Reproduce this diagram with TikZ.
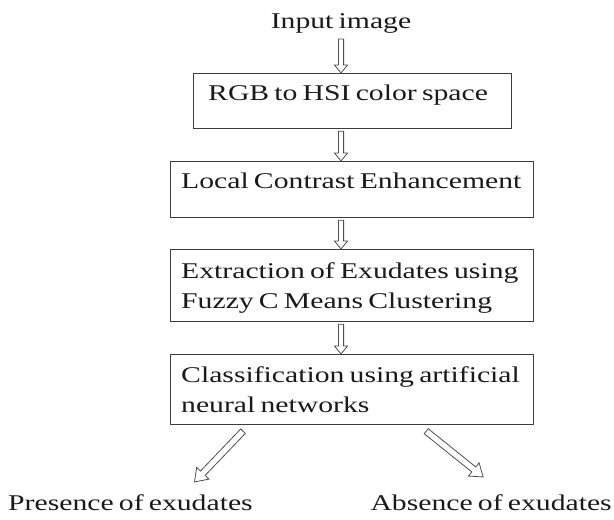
\documentclass[tikz,border=0pt]{standalone}
\usepackage{fontspec}
\newfontfamily\flowfont[FakeStretch=1.32,WordSpace=0.7]{Liberation Serif}
\usetikzlibrary{calc}
\definecolor{boxline}{HTML}{3C3C3C}
\definecolor{inktext}{HTML}{1A1A1A}
\definecolor{arrowline}{HTML}{4E4E4E}
\tikzset{
  stagebox/.style={draw=boxline, line width=1.2pt, inner sep=0pt, anchor=north west},
  stagetext/.style={font=\flowfont\fontsize{22.5}{30}\selectfont, text=inktext, inner sep=0pt, align=left},
  hollow/.style={draw=arrowline, line width=0.8pt, fill=white, line join=miter},
}
% hollow block arrow: tail, tip, shaft half-width, head half-width, head length
\newcommand\hollowarrow[5]{%
  \coordinate (hbase) at ($(#2)!#5!(#1)$);
  \draw[hollow] ($(#1)!#3!90:(#2)$) -- ($(hbase)!#3!-90:(#1)$) -- ($(hbase)!#4!-90:(#1)$)
    -- (#2) -- ($(hbase)!#4!90:(#1)$) -- ($(hbase)!#3!90:(#1)$) -- ($(#1)!#3!-90:(#2)$) -- cycle;}
\begin{document}
\begin{tikzpicture}[x=1pt,y=1pt]
\useasboundingbox (0,0) rectangle (614,-520);
\fill[white] (0,0) rectangle (614,-520);

% input and stages
\node[stagetext, anchor=base] (in) at (341,-28) {Input image};

\node[stagebox, minimum width=318pt, minimum height=55pt] (b1) at (193,-73) {};
\node[stagetext, anchor=north west] (t1) at ($(b1.north west)+(15,-12)$) {RGB to HSI color space};

\node[stagebox, minimum width=363pt, minimum height=56pt] (b2) at (170,-161) {};
\node[stagetext, anchor=north west] (t2) at ($(b2.north west)+(11,-12)$) {Local Contrast Enhancement};

\node[stagebox, minimum width=363pt, minimum height=72pt] (b3) at (170,-249) {};
\node[stagetext, anchor=north west] (t3) at ($(b3.north west)+(11,-13)$) {Extraction of Exudates using\\Fuzzy C Means Clustering};

\node[stagebox, minimum width=363pt, minimum height=70pt] (b4) at (170,-354) {};
\node[stagetext, anchor=north west] (t4) at ($(b4.north west)+(11,-12)$) {Classification using artificial\\neural networks};

% outcomes
\node[stagetext, anchor=base west] (pres) at (8,-510) {Presence of exudates};
\node[stagetext, anchor=base east] (abs) at (612,-510) {Absence of exudates};

% vertical arrows between stages
\coordinate (a1s) at ($(in.south)+(0,-6)$);
\coordinate (a1t) at (in.south |- b1.north);
\coordinate (k1) at (in.south |- b1.south);
\coordinate (a2s) at ($(k1)+(0,-2)$);
\coordinate (a2t) at (in.south |- b2.north);
\coordinate (k2) at (in.south |- b2.south);
\coordinate (a3s) at ($(k2)+(0,-2)$);
\coordinate (a3t) at (in.south |- b3.north);
\coordinate (k3) at (in.south |- b3.south);
\coordinate (a4s) at ($(k3)+(0,-2)$);
\coordinate (a4t) at (in.south |- b4.north);
\hollowarrow{a1s}{a1t}{2.6pt}{6.5pt}{8pt}
\hollowarrow{a2s}{a2t}{2.6pt}{6.5pt}{8pt}
\hollowarrow{a3s}{a3t}{2.6pt}{6.5pt}{8pt}
\hollowarrow{a4s}{a4t}{2.6pt}{6.5pt}{8pt}

% diagonal arrows to the outcomes
\coordinate (d1s) at ($(b4.south west)+(73,-6)$);
\coordinate (d1t) at ($(pres.north)+(64,12)$);
\coordinate (d2s) at ($(b4.south east)+(-108,-6)$);
\coordinate (d2t) at ($(abs.north)+(-8,17)$);
\hollowarrow{d1s}{d1t}{3.2pt}{8.5pt}{12pt}
\hollowarrow{d2s}{d2t}{3.2pt}{8.5pt}{12pt}
\end{tikzpicture}
\end{document}
